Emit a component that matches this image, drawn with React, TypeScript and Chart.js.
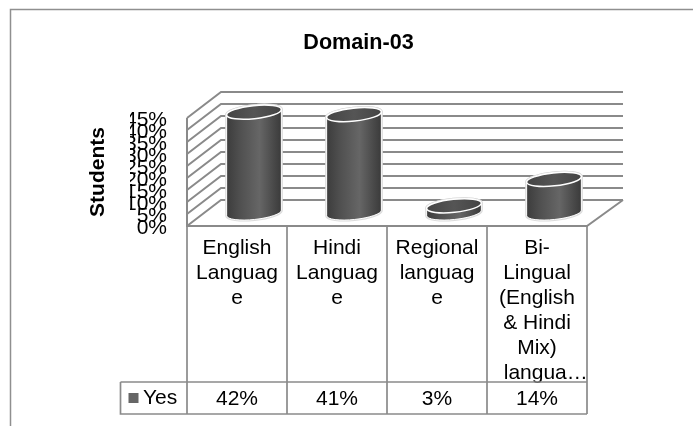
import React, { useEffect, useRef } from "react";
import { Chart, registerables } from "chart.js";

Chart.register(...registerables);

const titleText = "Domain-03";
const axisTitle = "Students";
const seriesName = "Yes";
const categories: string[][] = [
  ["English", "Languag", "e"],
  ["Hindi", "Languag", "e"],
  ["Regional", "languag", "e"],
  ["Bi-", "Lingual", "(English", "& Hindi", "Mix)", "   langua…"],
];
const yesValues = [42, 41, 3, 14];
const yMax = 45;
const yStep = 5;

const FONT = '"Liberation Sans", Arial, sans-serif';
const GRID = "#8a8a8a";
const DEPTH_X = 34;
const DEPTH_Y = 26;

function cylinder(ctx: CanvasRenderingContext2D, cx: number, topY: number, baseY: number, rx: number) {
  const ry = 6.5;
  const tilt = (-6 * Math.PI) / 180;
  const dx = rx * Math.cos(tilt);
  const dy = rx * Math.sin(tilt);

  const body = () => {
    ctx.beginPath();
    ctx.moveTo(cx - dx, topY - dy);
    ctx.lineTo(cx - dx, baseY - dy);
    ctx.ellipse(cx, baseY, rx, ry, tilt, Math.PI, 0, true);
    ctx.lineTo(cx + dx, topY + dy);
    ctx.ellipse(cx, topY, rx, ry, tilt, 0, Math.PI, true);
    ctx.closePath();
  };
  const cap = () => {
    ctx.beginPath();
    ctx.ellipse(cx, topY, rx, ry, tilt, 0, Math.PI * 2);
    ctx.closePath();
  };

  ctx.save();
  ctx.lineJoin = "round";
  body();
  ctx.strokeStyle = "#dcdcdc";
  ctx.lineWidth = 3;
  ctx.stroke();
  cap();
  ctx.stroke();

  const g = ctx.createLinearGradient(cx - rx, 0, cx + rx, 0);
  g.addColorStop(0, "#3c3c3c");
  g.addColorStop(0.25, "#505050");
  g.addColorStop(0.6, "#666666");
  g.addColorStop(0.85, "#4a4a4a");
  g.addColorStop(1, "#3a3a3a");
  body();
  ctx.fillStyle = g;
  ctx.fill();
  ctx.strokeStyle = "#ffffff";
  ctx.lineWidth = 1;
  ctx.stroke();

  const t = ctx.createLinearGradient(cx - rx, 0, cx + rx, 0);
  t.addColorStop(0, "#444444");
  t.addColorStop(0.5, "#555555");
  t.addColorStop(1, "#444444");
  cap();
  ctx.fillStyle = t;
  ctx.fill();
  ctx.strokeStyle = "#ffffff";
  ctx.lineWidth = 1.5;
  ctx.stroke();
  ctx.restore();
}

const scenePlugin = {
  id: "scene3d",
  beforeDraw(chart: any) {
    const { ctx, chartArea: a } = chart;
    const y = chart.scales.y;
    ctx.save();
    // outer frame
    ctx.strokeStyle = "#8f8f8f";
    ctx.lineWidth = 1.5;
    ctx.beginPath();
    ctx.moveTo(693, 9.5);
    ctx.lineTo(10.5, 9.5);
    ctx.lineTo(10.5, 426);
    ctx.stroke();

    // walls
    ctx.strokeStyle = GRID;
    ctx.lineWidth = 2;
    y.ticks.forEach((tk: any) => {
      const py = y.getPixelForValue(tk.value);
      ctx.beginPath();
      ctx.moveTo(a.left, py);
      ctx.lineTo(a.left + DEPTH_X, py - DEPTH_Y);
      ctx.lineTo(a.right + DEPTH_X + 2, py - DEPTH_Y);
      ctx.stroke();
    });
    ctx.beginPath();
    ctx.moveTo(a.left, a.top);
    ctx.lineTo(a.left, a.bottom);
    ctx.lineTo(a.right, a.bottom);
    ctx.lineTo(a.right + DEPTH_X + 2, a.bottom - DEPTH_Y);
    ctx.stroke();
    ctx.restore();
  },
  beforeDatasetsDraw(chart: any) {
    const { ctx } = chart;
    chart.getDatasetMeta(0).data.forEach((bar: any) => {
      cylinder(ctx, bar.x + DEPTH_X / 2, bar.y - DEPTH_Y / 2, bar.base - DEPTH_Y / 2, bar.width / 2);
    });
  },
  afterDraw(chart: any) {
    const { ctx, chartArea: a } = chart;
    const x = chart.scales.x;
    const half = (x.getPixelForTick(1) - x.getPixelForTick(0)) / 2;
    const rowTop = 382;
    const rowBottom = 414;
    const keyLeft = 120.5;
    ctx.save();
    ctx.strokeStyle = GRID;
    ctx.lineWidth = 1.7;
    categories.forEach((_, i) => {
      const px = x.getPixelForTick(i);
      ctx.beginPath();
      ctx.moveTo(px - half, a.bottom);
      ctx.lineTo(px - half, rowBottom);
      ctx.stroke();
      if (i === categories.length - 1) {
        ctx.beginPath();
        ctx.moveTo(px + half, a.bottom);
        ctx.lineTo(px + half, rowBottom);
        ctx.stroke();
      }
    });
    ctx.beginPath();
    ctx.moveTo(keyLeft, rowTop);
    ctx.lineTo(a.right, rowTop);
    ctx.moveTo(keyLeft, rowTop);
    ctx.lineTo(keyLeft, rowBottom);
    ctx.lineTo(a.right, rowBottom);
    ctx.stroke();

    ctx.fillStyle = "#666666";
    ctx.fillRect(128.5, 393, 10, 10);
    ctx.fillStyle = "#000000";
    ctx.font = `21px ${FONT}`;
    ctx.textBaseline = "middle";
    ctx.textAlign = "left";
    ctx.fillText(seriesName, 143, 398);
    ctx.textAlign = "center";
    yesValues.forEach((v, i) => {
      ctx.fillText(`${v}%`, x.getPixelForTick(i), 399);
    });
    ctx.restore();
  },
};

export default function App() {
  const ref = useRef<HTMLCanvasElement | null>(null);

  useEffect(() => {
    if (!ref.current) return;
    const chart = new Chart(ref.current, {
      type: "bar",
      data: {
        labels: categories as any,
        datasets: [
          {
            label: seriesName,
            data: yesValues,
            backgroundColor: "rgba(0,0,0,0)",
            barPercentage: 0.55,
            categoryPercentage: 1,
          },
        ],
      },
      plugins: [scenePlugin as any],
      options: {
        responsive: false,
        animation: false,
        layout: { padding: { left: 130, right: 106, top: 0, bottom: 0 } },
        plugins: {
          legend: { display: false },
          tooltip: { enabled: false },
          title: {
            display: true,
            text: titleText,
            color: "#000000",
            font: { family: FONT, size: 21.6, weight: "bold", lineHeight: 25 / 21.6 },
            padding: { top: 30.5, bottom: 62.5 },
          },
        },
        scales: {
          x: {
            grid: { display: false },
            border: { display: false },
            afterFit: (s: any) => {
              s.height = 200;
            },
            ticks: {
              autoSkip: false,
              maxRotation: 0,
              minRotation: 0,
              padding: 2,
              color: "#000000",
              font: { family: FONT, size: 21, lineHeight: 25 / 21 },
            },
          },
          y: {
            min: 0,
            max: yMax,
            grid: { display: false },
            border: { display: false },
            afterFit: (s: any) => {
              s.width = 57;
            },
            title: {
              display: true,
              text: axisTitle,
              color: "#000000",
              font: { family: FONT, size: 21, weight: "bold", lineHeight: 25 / 21 },
              padding: { top: -44, bottom: 0 },
            },
            ticks: {
              autoSkip: false,
              stepSize: yStep,
              padding: 12,
              labelOffset: 2,
              color: "#000000",
              font: { family: FONT, size: 21 },
              callback: (v: any) => `${v}%`,
            },
          },
        },
      } as any,
    });
    return () => chart.destroy();
  }, []);

  return (
    <div style={{ position: "absolute", left: 0, top: 0, width: 693, height: 426, background: "#ffffff" }}>
      <canvas ref={ref} width={693} height={426} style={{ display: "block" }} />
    </div>
  );
}
